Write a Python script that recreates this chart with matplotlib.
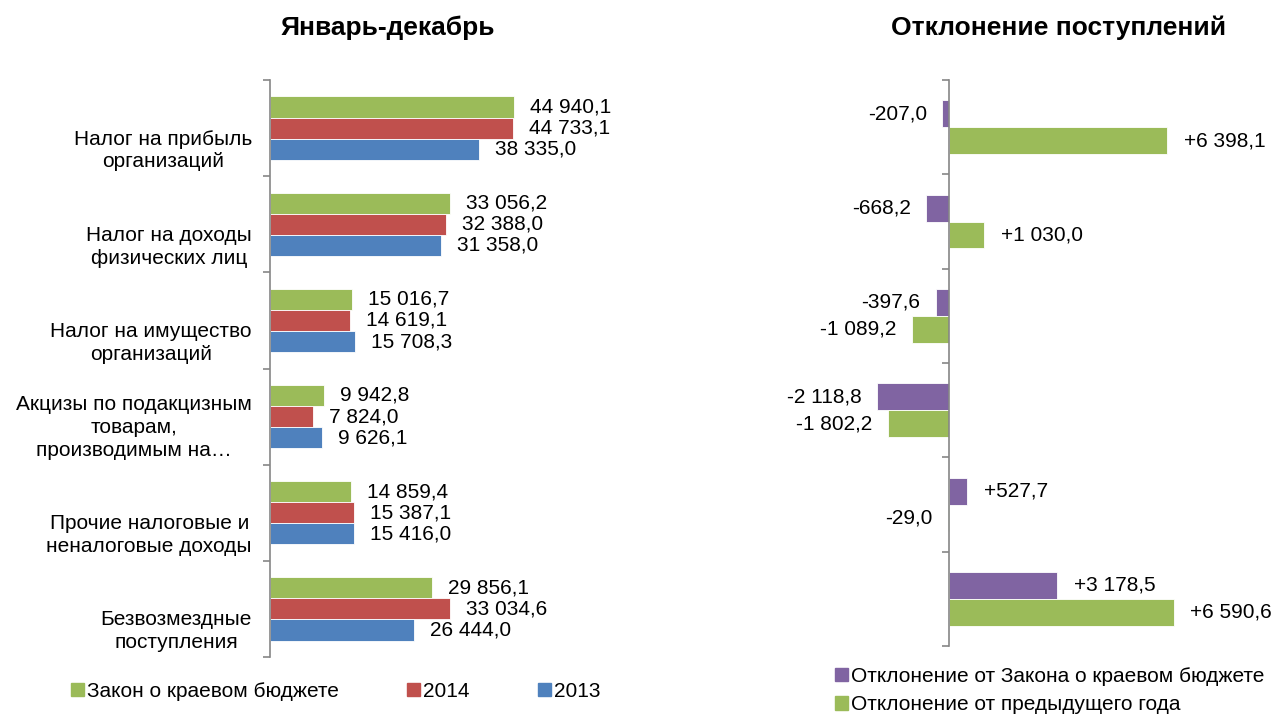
"""
Доходы краевого бюджета: январь-декабрь и отклонение поступлений
"""
import matplotlib
matplotlib.use('Agg')
import matplotlib.pyplot as plt
from matplotlib.patches import Patch

# Data
categories = [
    "Налог на прибыль\nорганизаций",
    "Налог на доходы\nфизических лиц",
    "Налог на имущество\nорганизаций",
    "Акцизы по подакцизным\nтоварам,\nпроизводимым на…",
    "Прочие налоговые и\nненалоговые доходы",
    "Безвозмездные\nпоступления",
]
law_values = [44940.1, 33056.2, 15016.7, 9942.8, 14859.4, 29856.1]
values_2014 = [44733.1, 32388.0, 14619.1, 7824.0, 15387.1, 33034.6]
values_2013 = [38335.0, 31358.0, 15708.3, 9626.1, 15416.0, 26444.0]
dev_from_law = [-207.0, -668.2, -397.6, -2118.8, 527.7, 3178.5]
dev_from_prev = [6398.1, 1030.0, -1089.2, -1802.2, -29.0, 6590.6]

GREEN = '#9BBB59'
RED = '#C0504D'
BLUE = '#4F81BD'
PURPLE = '#8064A2'
SPINE = '#868686'

plt.rcParams['font.family'] = ['Liberation Sans', 'DejaVu Sans']
plt.rcParams['font.size'] = 15


def fmt(v, sign=False):
    s = f"{abs(v):,.1f}".replace(",", " ").replace(".", ",")
    if v < 0:
        return "-" + s
    return ("+" + s) if sign else s


W, H = 1276, 718
fig = plt.figure(figsize=(W / 100, H / 100), dpi=100)

# ---------- left chart ----------
ax1 = fig.add_axes([270 / W, 1 - 657 / H, 272 / W, 577 / H])
n = len(categories)
h = 0.22
for i in range(n):
    for val, off, col in [(law_values[i], -h, GREEN),
                          (values_2014[i], 0, RED),
                          (values_2013[i], h, BLUE)]:
        ax1.barh(i + off, val, height=h, color=col, edgecolor='white', linewidth=0.6)
        ax1.annotate(fmt(val), (val, i + off), xytext=(11.5, 0), textcoords='offset points',
                     ha='left', va='center', fontsize=15, annotation_clip=False)

ax1.set_xlim(0, 50000)
ax1.set_ylim(n - 0.5, -0.5)
ax1.set_yticks([k - 0.5 for k in range(n + 1)])
ax1.set_yticklabels([])
ax1.tick_params(axis='y', direction='out', length=5, color=SPINE, width=1.2)
ax1.set_xticks([])
for s in ['top', 'right', 'bottom']:
    ax1.spines[s].set_visible(False)
ax1.spines['left'].set_color(SPINE)
ax1.spines['left'].set_linewidth(1.2)
for i, lab in enumerate(categories):
    ax1.text(-18 / 272, i + 0.45, lab, transform=ax1.get_yaxis_transform(),
             ha='right', va='bottom', multialignment='center', linespacing=1.25, fontsize=15)

fig.text(388 / W, 1 - 28 / H, "Январь-декабрь", ha='center', va='center',
         fontsize=19, fontweight='bold')

fig.legend(handles=[Patch(color=GREEN, label='Закон о краевом бюджете'),
                    Patch(color=RED, label='2014'),
                    Patch(color=BLUE, label='2013')],
           loc='upper left', bbox_to_anchor=(71 / W, 1 - 682 / H), ncol=3,
           frameon=False, borderpad=0, borderaxespad=0, handlelength=0.6,
           handleheight=0.6, handletextpad=0.15, columnspacing=3.3, fontsize=15)

# ---------- right chart ----------
ax2 = fig.add_axes([864 / W, 1 - 646 / H, 323.5 / W, 566 / H])
h2 = 0.285
for i in range(n):
    for val, off, col in [(dev_from_law[i], -h2 / 2, PURPLE),
                          (dev_from_prev[i], h2 / 2, GREEN)]:
        ax2.barh(i + off, val, height=h2, color=col, edgecolor='white', linewidth=0.6)
        if val >= 0:
            ax2.annotate(fmt(val, sign=True), (val, i + off), xytext=(12, 0),
                         textcoords='offset points', ha='left', va='center',
                         fontsize=15, annotation_clip=False)
        else:
            ax2.annotate(fmt(val, sign=True), (val, i + off), xytext=(-11, 0),
                         textcoords='offset points', ha='right', va='center',
                         fontsize=15, annotation_clip=False)

ax2.set_xlim(-2500, 7000)
ax2.set_ylim(n - 0.5, -0.5)
ax2.set_yticks([k - 0.5 for k in range(n + 1)])
ax2.set_yticklabels([])
ax2.tick_params(axis='y', direction='out', length=5, color=SPINE, width=1.2)
ax2.set_xticks([])
for s in ['top', 'right', 'bottom']:
    ax2.spines[s].set_visible(False)
ax2.spines['left'].set_position(('data', 0))
ax2.spines['left'].set_color(SPINE)
ax2.spines['left'].set_linewidth(1.2)

fig.text(1059 / W, 1 - 28 / H, "Отклонение поступлений", ha='center', va='center',
         fontsize=19, fontweight='bold')

# legend kept a few px higher than the reference so the second row isn't clipped
fig.legend(handles=[Patch(color=PURPLE, label='Отклонение от Закона о краевом бюджете'),
                    Patch(color=GREEN, label='Отклонение от предыдущего года')],
           loc='upper left', bbox_to_anchor=(835 / W, 1 - 667 / H), ncol=1,
           frameon=False, borderpad=0, borderaxespad=0, handlelength=0.6,
           handleheight=0.6, handletextpad=0.15, labelspacing=0.45, fontsize=15)

fig.savefig('out.png', dpi=100)
